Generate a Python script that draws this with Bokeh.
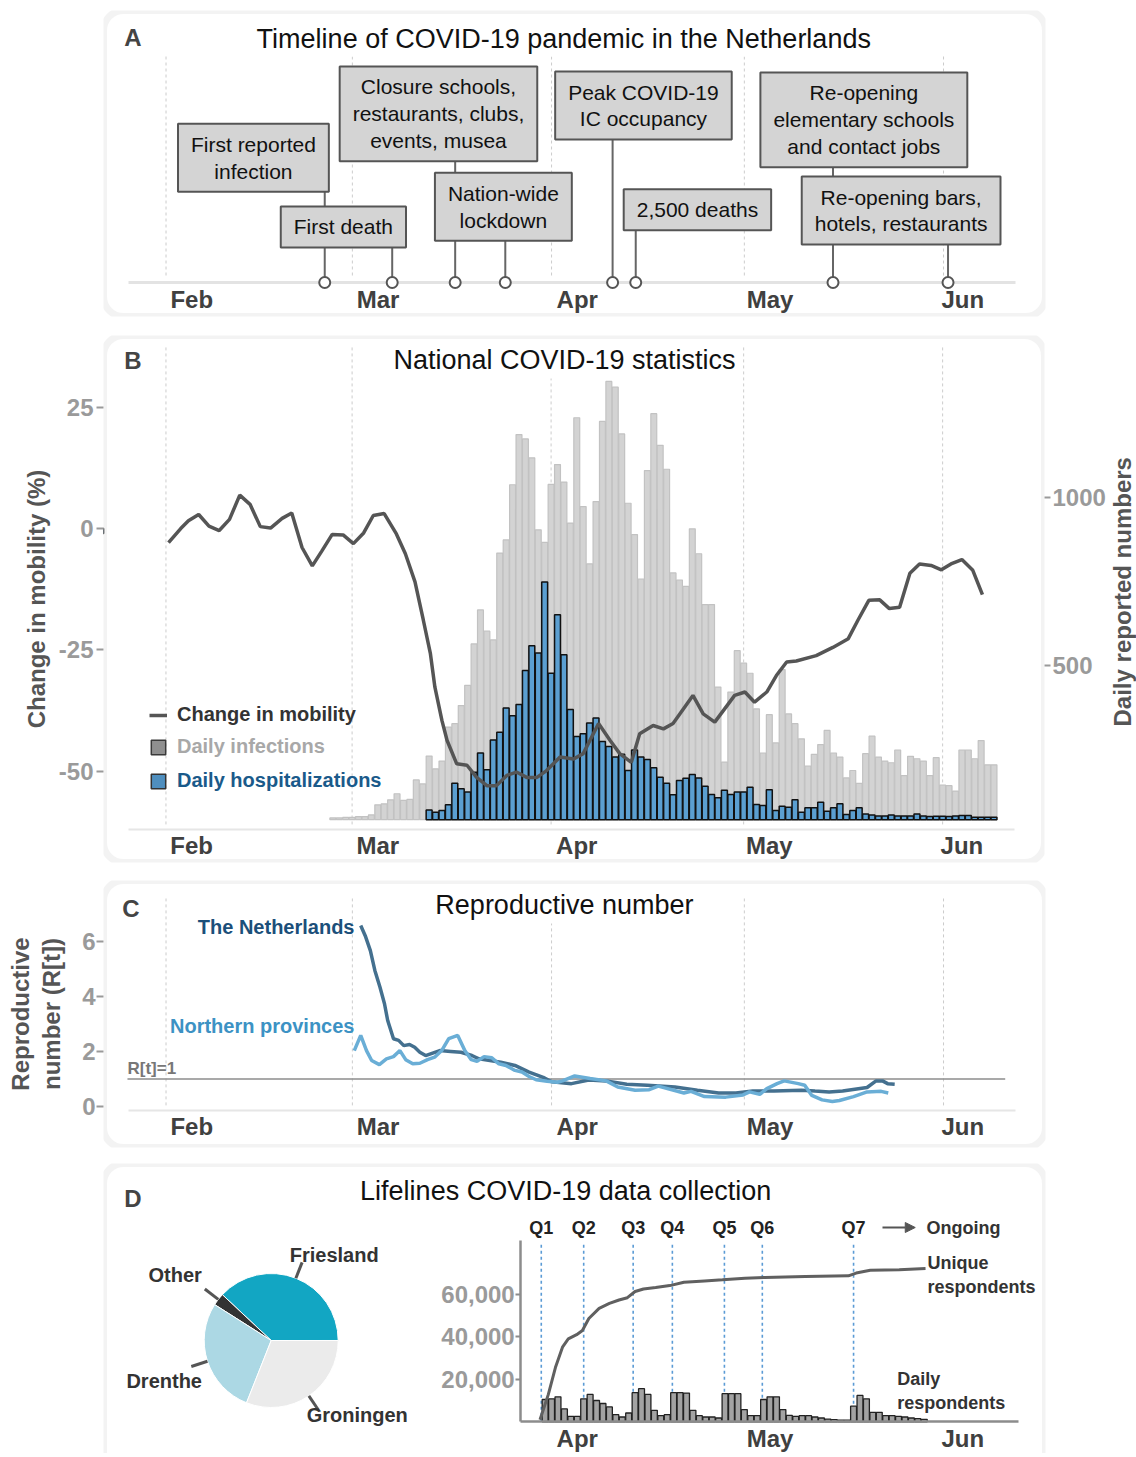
import math
import numpy as np
from bokeh.plotting import figure
from bokeh.models import (Range1d, LinearAxis, FixedTicker, BoxAnnotation, Label, Legend,
                          LegendItem, ColumnDataSource, Arrow, NormalHead, NumeralTickFormatter)
from bokeh.layouts import column, row
from bokeh.embed import file_html
from bokeh.resources import INLINE
from bokeh.core.properties import value
from bokeh.transform import cumsum

FONT = "Liberation Sans"

# ---------------- data (x = day of year 2020, Jan 1 = 0) ----------------
MONTH_STARTS = [31, 60, 91, 121, 152]
MONTH_TICKS = [35, 64, 95, 125, 155]
MONTH_LABELS = ["Feb", "Mar", "Apr", "May", "Jun"]

EVENT_DAY = [55.7, 66.2, 76.0, 83.8, 100.5, 104.1, 134.8, 152.7]
EVENT_TEXT = ["First reported\ninfection", "First death",
              "Closure schools,\nrestaurants, clubs,\nevents, musea", "Nation-wide\nlockdown",
              "Peak COVID-19\nIC occupancy", "2,500 deaths",
              "Re-opening\nelementary schools\nand contact jobs", "Re-opening bars,\nhotels, restaurants"]
LABEL_DAY = [44.6, 58.6, 73.4, 83.5, 105.3, 113.7, 139.6, 145.4]
LABEL_LEVEL = [124.8, 55.6, 168.7, 75.7, 177.0, 72.8, 162.7, 72.0]

MOB_DAY = [31.4, 33.3, 34.5, 36.1, 37.7, 39.3, 40.9, 42.5, 44.1, 45.7, 47.3, 49.1, 50.6, 52.2,
           53.8, 55.3, 56.9, 58.6, 60.2, 61.8, 63.3, 65.0, 66.9, 68.3, 69.8, 71.1, 72.2, 72.9,
           74.0, 74.8, 76.3, 77.9, 79.4, 81.0, 82.5, 84.1, 85.6, 87.2, 88.8, 90.3, 92.4, 94.5,
           96.0, 98.4, 100.2, 101.7, 103.5, 104.8, 106.9, 108.5, 110.0, 113.1, 114.7, 116.5,
           119.6, 121.2, 122.7, 124.6, 126.1, 127.7, 129.2, 132.3, 134.9, 137.3, 138.8, 140.5,
           142.2, 143.7, 145.3, 146.9, 148.4, 150.2, 151.8, 153.3, 155.0, 156.7, 158.2]
MOB_PCT = [-2.9, 0.0, 1.6, 2.9, 0.5, -0.4, 1.9, 6.9, 5.0, 0.4, 0.1, 2.1, 3.2, -3.9,
           -7.7, -4.6, -1.2, -1.3, -3.1, -0.9, 2.7, 3.1, -1.1, -5.2, -11.0, -18.9, -25.8, -32.7,
           -39.6, -43.7, -48.5, -48.8, -51.3, -53.0, -53.0, -50.9, -50.2, -51.3, -51.3, -49.9, -47.1, -47.5,
           -46.4, -40.2, -43.7, -46.4, -48.2, -42.3, -40.6, -41.3, -40.2, -34.4, -38.2, -39.9,
           -34.4, -33.7, -35.8, -33.7, -30.3, -27.5, -27.3, -26.2, -24.5, -22.7, -18.9, -14.8,
           -14.7, -16.5, -16.2, -9.2, -7.3, -7.6, -8.5, -7.3, -6.4, -8.6, -13.6]

INF_COUNT = [47, 47, 49, 49, 51, 51, 56, 86, 89, 101,
             119, 99, 102, 160, 148, 231, 193, 216, 317, 327,
             381, 441, 564, 665, 602, 576, 834, 873, 1037, 1186,
             1173, 1117, 903, 866, 1038, 1097, 1045, 923, 1236, 972,
             802, 987, 1225, 1344, 1327, 1188, 982, 889, 757, 1079,
             1248, 1154, 1083, 775, 754, 735, 906, 832, 681, 681,
             436, 213, 421, 544, 507, 477, 371, 240, 354, 270,
             488, 356, 327, 282, 201, 236, 265, 307, 240, 228,
             166, 188, 150, 238, 290, 228, 216, 211, 249, 173,
             230, 223, 216, 173, 226, 145, 143, 127, 249, 249,
             223, 277, 205, 205]
INF_DAY = list(range(57, 57 + len(INF_COUNT)))

HOSP_COUNT = [71, 64, 69, 86, 150, 134, 124, 183, 240, 190,
              279, 302, 374, 351, 384, 485, 559, 537, 748, 477,
              651, 532, 369, 289, 297, 329, 344, 274, 259, 228,
              236, 188, 249, 228, 221, 196, 168, 150, 116, 158,
              165, 176, 166, 141, 117, 107, 129, 117, 124, 124,
              138, 87, 84, 131, 69, 82, 79, 101, 64, 77,
              77, 94, 67, 77, 89, 57, 69, 77, 59, 56,
              53, 53, 56, 53, 53, 53, 59, 53, 51, 52,
              52, 51, 53, 54, 54, 49, 49, 49, 49]
HOSP_DAY = list(range(72, 72 + len(HOSP_COUNT)))
BAR_BASE = 42

NL_DAY = [61.3, 62.0, 62.8, 63.5, 64.3, 65.0, 65.5, 66.4, 67.2, 68.0, 68.9, 69.7, 70.5, 71.4,
          72.5, 73.6, 75.3, 76.9, 78.6, 79.7, 81.4, 83.1, 85.3, 87.5, 89.7, 91.0, 94.1, 96.8,
          99.5, 102.7, 105.9, 110.2, 113.7, 117.0, 119.7, 122.3, 125.6, 129.9, 132.0, 134.2,
          136.3, 140.1, 141.5, 142.5, 143.3, 144.4]
NL_R = [6.57, 6.2, 5.66, 4.94, 4.33, 3.73, 3.12, 2.46, 2.40, 2.21, 2.25, 2.15, 1.97, 1.85,
        1.94, 2.03, 2.0, 1.97, 1.85, 1.73, 1.67, 1.61, 1.49, 1.25, 1.06, 0.90, 0.83, 0.96,
        0.93, 0.81, 0.77, 0.71, 0.59, 0.49, 0.49, 0.56, 0.56, 0.59, 0.56, 0.53,
        0.56, 0.69, 0.93, 0.93, 0.83, 0.81]
NP_DAY = [60.3, 61.3, 62.2, 63.0, 64.2, 65.3, 66.4, 67.4, 68.3, 69.4, 70.5, 71.7, 72.8, 73.9,
          75.0, 76.4, 77.5, 78.5, 79.4, 80.5, 81.7, 82.8, 83.9, 85.3, 86.4, 87.5, 88.6, 90.3,
          91.9, 92.7, 94.6, 97.0, 99.5, 101.3, 104.0, 106.2, 107.6, 111.6, 112.7, 114.8, 118.1,
          120.8, 121.8, 123.4, 124.5, 126.1, 127.2, 129.4, 130.4, 131.5, 133.1, 134.7, 135.8,
          138.0, 140.1, 142.3, 143.4]
NP_R = [2.03, 2.58, 2.03, 1.67, 1.52, 1.73, 1.81, 2.03, 1.70, 1.55, 1.57, 1.70, 1.79, 2.03,
        2.46, 2.58, 2.03, 1.70, 1.64, 1.81, 1.77, 1.55, 1.49, 1.31, 1.25, 1.09, 0.97, 0.92,
        0.88, 0.93, 1.11, 1.02, 0.93, 0.71, 0.59, 0.61, 0.74, 0.49, 0.55, 0.36, 0.34,
        0.42, 0.53, 0.44, 0.65, 0.83, 0.93, 0.83, 0.77, 0.40, 0.24, 0.18, 0.22,
        0.36, 0.53, 0.55, 0.49]
R_REF = 1.0

PIE_NAMES = ["Friesland", "Other", "Drenthe", "Groningen"]
PIE_SHARE = [38, 3, 28, 31]
PIE_COLORS = ["#12a6c3", "#333333", "#acd8e4", "#ebebeb"]

Q_LABELS = ["Q1", "Q2", "Q3", "Q4", "Q5", "Q6", "Q7"]
Q_DAY = [89.4, 96.0, 103.7, 109.8, 117.9, 123.8, 138.0]
UNIQUE_DAY = [89.2, 90.5, 91.6, 92.7, 93.6, 94.9, 95.8, 96.8, 98.4, 100.0, 101.5, 102.8, 104.0,
              105.3, 107.2, 109.4, 111.6, 114.8, 117.6, 121.1, 124.2, 130.5, 137.2, 138.4,
              140.6, 145.1, 149.2]
UNIQUE_N = [1000, 12900, 25500, 35100, 39000, 41000, 43000, 48600, 53400, 55700, 57300, 58400,
            61300, 62500, 63200, 64100, 65700, 66300, 66800, 67600, 67900, 68400, 68700, 70000,
            71300, 71600, 72100]
DAILY_N = [10500, 10800, 11770, 6070, 2540, 2540,
           10800, 12900, 10020, 8600, 7000, 3340, 2250, 4140,
           13700, 15580, 12900, 5400, 2870, 3340,
           13700, 13700, 13540, 5400, 2870, 2250, 2250, 1790,
           13220, 13220, 13220, 5740, 2870, 2870,
           10500, 11770, 11770, 5740, 3050, 2540, 2870, 2870, 2250, 1790, 1300, 1000, 830, 830,
           7340, 12420, 10800, 4470, 4470, 2870, 2870, 2540, 2250, 1790, 1460, 1160]
DAILY_DAY = list(range(90, 90 + len(DAILY_N)))

# ---------------- helpers ----------------
X_RANGE = (21.27, 167.87)
LINE_BOUNDS = (25.2, 163.2)
PAGE_W = 1136


def base_fig(height, y_range, top, bottom, width=PAGE_W, right=91):
    p = figure(width=width, height=height, x_range=Range1d(*X_RANGE), y_range=y_range,
               x_axis_location=None, y_axis_location=None, title=None,
               toolbar_location=None, output_backend="svg",
               min_border_left=103, min_border_right=right, min_border_top=top,
               min_border_bottom=bottom)
    p.outline_line_color = None
    p.background_fill_color = "white"
    p.border_fill_color = "white"
    for g in p.grid:
        g.visible = False
    return p


def add_box(p, **kw):
    p.add_layout(BoxAnnotation(fill_color=None, line_color="#d6d6d6", line_width=7,
                               border_radius=20, **kw))


def letter(p, x, y, txt):
    p.add_layout(Label(x=x, y=y, text=txt, text_font=FONT, text_font_size="24px",
                       text_font_style="bold", text_color="#444444",
                       text_align="left", text_baseline="middle"))


def title(p, x, y, txt):
    p.add_layout(Label(x=x, y=y, text=txt, text_font=FONT, text_font_size="27px",
                       text_color="#111111", text_align="center", text_baseline="middle",
                       background_fill_color="white", padding=3))


def month_axis(fixed, line_color, line_width, ticks=MONTH_TICKS, labels=MONTH_LABELS,
               bounds=LINE_BOUNDS):
    ax = LinearAxis(fixed_location=fixed, ticker=FixedTicker(ticks=ticks),
                    major_label_overrides={t: l for t, l in zip(ticks, labels)}, bounds=bounds)
    ax.axis_line_color = line_color
    ax.axis_line_width = line_width
    ax.major_tick_line_color = None
    ax.minor_tick_line_color = None
    ax.major_label_text_font = FONT
    ax.major_label_text_font_size = "24px"
    ax.major_label_text_font_style = "bold"
    ax.major_label_text_color = "#404040"
    ax.major_label_standoff = -3
    return ax


def style_value_axis(ax, size="24px", tick_out=7, standoff=3):
    ax.axis_line_color = None
    ax.major_tick_line_color = "#9a9a9a"
    ax.major_tick_line_width = 2
    ax.major_tick_out = tick_out
    ax.major_tick_in = 0
    ax.minor_tick_line_color = None
    ax.major_label_text_font = FONT
    ax.major_label_text_font_size = size
    ax.major_label_text_font_style = "bold"
    ax.major_label_text_color = "#9a9a9a"
    ax.major_label_standoff = standoff
    ax.axis_label_text_font = FONT
    ax.axis_label_text_font_style = "bold"
    ax.axis_label_text_color = "#555555"


GRID = dict(line_color="#cccccc", line_width=1, line_dash="3 3")
NOTE = dict(text_font=FONT, text_font_size="18px", text_font_style="bold", text_color="#333333")

# ---------------- Panel A: timeline ----------------
pA = base_fig(325, Range1d(-34, 272), 10, 9)
add_box(pA)
pA.segment(x0=MONTH_STARTS, x1=MONTH_STARTS, y0=7, y1=227, **GRID)
pA.add_layout(month_axis(0, "#e3e3e3", 3), "below")
pA.segment(x0=EVENT_DAY, x1=EVENT_DAY, y0=0, y1=LABEL_LEVEL, line_color="#666666", line_width=2)
pA.scatter(x=EVENT_DAY, y=[0] * len(EVENT_DAY), size=11, fill_color="white",
           line_color="#555555", line_width=2, level="overlay")
for xd, yl, txt in zip(LABEL_DAY, LABEL_LEVEL, EVENT_TEXT):
    pA.add_layout(Label(x=xd, y=yl, text=txt, text_font=FONT, text_font_size="21px",
                        text_color="#111111", text_align="center", text_baseline="middle",
                        text_line_height=1.17, background_fill_color="#d4d4d4",
                        border_line_color="#555555", border_line_width=2, padding=(13, 9)))
letter(pA, 24.5, 245, "A")
title(pA, 92.9, 244, "Timeline of COVID-19 pandemic in the Netherlands")

# ---------------- Panel B: national statistics ----------------
B_W = 1108
pB = base_fig(547, Range1d(-68.85, 39.81), 10, 10, width=B_W, right=B_W - 1045)
pB.extra_y_ranges = {"counts": Range1d(-85.3, 1480.4)}
add_box(pB)
pB.segment(x0=MONTH_STARTS, x1=MONTH_STARTS, y0=-61.0, y1=37.75, **GRID)
pB.vbar(x=INF_DAY, top=INF_COUNT, bottom=BAR_BASE, width=0.92, fill_color="#d3d3d3",
        line_color="#c2c2c2", line_width=1.2, y_range_name="counts")
pB.vbar(x=HOSP_DAY, top=HOSP_COUNT, bottom=BAR_BASE, width=0.92, fill_color="#5b9fd1",
        line_color="#111111", line_width=1.5, y_range_name="counts")
mob = pB.line(MOB_DAY, MOB_PCT, line_color="#555555", line_width=3.5)
# legend-only renderers (placed far outside the visible range)
dummy_inf = pB.vbar(x=[-1000], top=[0], bottom=[-1], width=1, fill_color="#8f8f8f",
                    line_color="#3a3a3a", line_width=1.5)
dummy_hosp = pB.vbar(x=[-1000], top=[0], bottom=[-1], width=1, fill_color="#4f8fbf",
                     line_color="#333333", line_width=1.5)

MOB_TICKS = [-50, -25, 0, 25]
axL = LinearAxis(ticker=FixedTicker(ticks=MOB_TICKS), axis_label="Change in mobility (%)",
                 major_label_overrides={t: str(t) for t in MOB_TICKS})
style_value_axis(axL)
axL.axis_label_text_font_size = "24px"
axL.axis_label_standoff = 6
pB.add_layout(axL, "left")

axR = LinearAxis(y_range_name="counts", ticker=FixedTicker(ticks=[500, 1000]))
style_value_axis(axR, size="24px", tick_out=6, standoff=2)
pB.add_layout(axR, "right")
pB.add_layout(month_axis(-62.04, "#e6e6e6", 2), "below")

for lab, rend, col, loc in [("Change in mobility", mob, "#333333", (46, 136)),
                            ("Daily infections", dummy_inf, "#a8a8a8", (46, 104)),
                            ("Daily hospitalizations", dummy_hosp, "#1a5a8a", (46, 70))]:
    pB.add_layout(Legend(items=[LegendItem(label=lab, renderers=[rend])], location=loc,
                         label_text_font=FONT, label_text_font_size="20px",
                         label_text_font_style="bold", label_text_color=col,
                         glyph_width=18, glyph_height=18, label_standoff=10,
                         padding=0, margin=0, spacing=0, border_line_color=None,
                         background_fill_alpha=0))
letter(pB, 24.5, 34.66, "B")
title(pB, 93.1, 34.66, "National COVID-19 statistics")

# right-hand axis title of panel B (own narrow strip so it reads bottom-to-top)
T_W = PAGE_W - B_W
pT = figure(width=T_W, height=547, x_range=Range1d(0, T_W), y_range=Range1d(0, 547),
            x_axis_location=None, y_axis_location=None, title=None, toolbar_location=None,
            output_backend="svg", min_border=0)
pT.outline_line_color = None
for g in pT.grid:
    g.visible = False
pT.add_layout(Label(x=14, y=281, text="Daily reported numbers", angle=math.pi / 2,
                    text_font=FONT, text_font_size="24px", text_font_style="bold",
                    text_color="#555555", text_align="center", text_baseline="middle"))

# ---------------- Panel C: reproductive number ----------------
pC = base_fig(283, Range1d(-1.488, 8.203), 8, 8)
add_box(pC)
pC.segment(x0=MONTH_STARTS, x1=MONTH_STARTS, y0=0.04, y1=7.55, **GRID)
pC.segment(x0=[25.0], x1=[161.6], y0=[R_REF], y1=[R_REF], line_color="#8c8c8c", line_width=1.5)
pC.line(NL_DAY, NL_R, line_color="#44708f", line_width=3.5)
pC.line(NP_DAY, NP_R, line_color="#6aaed6", line_width=3.5)
axC = LinearAxis(ticker=FixedTicker(ticks=[0, 2, 4, 6]), axis_label="Reproductive\nnumber (R[t])")
style_value_axis(axC, standoff=1)
axC.axis_label_text_font_size = "24px"
axC.axis_label_text_line_height = 1.15
axC.axis_label_standoff = 14
pC.add_layout(axC, "left")
pC.add_layout(month_axis(-0.145, "#e6e6e6", 2), "below")
pC.add_layout(Label(x=60.33, y=6.53, text="The Netherlands", text_font=FONT, text_font_size="20px",
                    text_font_style="bold", text_color="#1b4f7a", text_align="right",
                    text_baseline="middle"))
pC.add_layout(Label(x=60.33, y=2.94, text="Northern provinces", text_font=FONT,
                    text_font_size="20px", text_font_style="bold", text_color="#3c92c4",
                    text_align="right", text_baseline="middle"))
pC.add_layout(Label(x=25.0, y=R_REF + 0.03, text="R[t]=1", text_font=FONT, text_font_size="17px",
                    text_font_style="bold", text_color="#777777", text_align="left",
                    text_baseline="bottom"))
letter(pC, 24.2, 7.19, "C")
title(pC, 93.0, 7.30, "Reproductive number")

# ---------------- Panel D: Lifelines ----------------
pD = base_fig(298, Range1d(-14918, 121553), 8, 0)
pD.extra_x_ranges = {"pie_x": Range1d(-167.7, 774.3)}
pD.extra_y_ranges = {"pie_y": Range1d(-113, 177)}
add_box(pD, bottom=-40000)

tot = float(sum(PIE_SHARE))
ang = [s / tot * 2 * math.pi for s in PIE_SHARE]
starts = np.cumsum([0.0] + ang[:-1])
mids = starts + np.array(ang) / 2
pie_src = ColumnDataSource(dict(name=PIE_NAMES, angle=ang, color=PIE_COLORS))
pD.wedge(x=0, y=0, radius=67, start_angle=cumsum("angle", include_zero=True),
         end_angle=cumsum("angle"), fill_color="color", line_color="white", line_width=1,
         source=pie_src, x_range_name="pie_x", y_range_name="pie_y")
pD.segment(x0=67 * np.cos(mids), y0=67 * np.sin(mids), x1=84 * np.cos(mids), y1=84 * np.sin(mids),
           line_color="#555555", line_width=3, x_range_name="pie_x", y_range_name="pie_y")
PIE_LABEL_POS = [(63, 86), (-96, 66), (-107, -40), (86, -74)]
pD.text(x=[p[0] for p in PIE_LABEL_POS], y=[p[1] for p in PIE_LABEL_POS], text=PIE_NAMES,
        text_font=value(FONT), text_font_size="20px", text_font_style="bold",
        text_color="#333333", text_align="center", text_baseline="middle",
        x_range_name="pie_x", y_range_name="pie_y")

pD.segment(x0=Q_DAY, x1=Q_DAY, y0=0, y1=84000, line_color="#5b9bd5", line_dash="3 3",
           line_width=1.6)
pD.vbar(x=DAILY_DAY, top=DAILY_N, bottom=0, width=0.92, fill_color="#a3a3a3",
        line_color="#222222", line_width=1.3)
pD.line(UNIQUE_DAY, UNIQUE_N, line_color="#606060", line_width=3)
pD.text(x=Q_DAY, y=91435, text=Q_LABELS, text_font=value(FONT), text_font_size="18px",
        text_font_style="bold", text_color="#222222", text_align="center", text_baseline="middle")
pD.add_layout(Arrow(x_start=142.5, y_start=91435, x_end=147.6, y_end=91435,
                    line_color="#555555", line_width=2,
                    end=NormalHead(size=10, fill_color="#555555", line_color="#555555")))
pD.add_layout(Label(x=149.35, y=91435, text="Ongoing", text_align="left",
                    text_baseline="middle", **NOTE))
pD.add_layout(Label(x=149.5, y=69082, text="Unique\nrespondents", text_align="left",
                    text_baseline="middle", text_line_height=1.2, **NOTE))
pD.add_layout(Label(x=144.8, y=14494, text="Daily\nrespondents", text_align="left",
                    text_baseline="middle", text_line_height=1.2, **NOTE))

axDy = LinearAxis(fixed_location=86.2, ticker=FixedTicker(ticks=[20000, 40000, 60000]),
                  formatter=NumeralTickFormatter(format="0,0"), bounds=(0, 85300))
style_value_axis(axDy, size="24px", tick_out=5, standoff=1)
axDy.axis_line_color = "#8c8c8c"
axDy.axis_line_width = 2.5
axDy.major_tick_line_color = "#8c8c8c"
pD.add_layout(axDy, "left")
pD.add_layout(month_axis(0, "#8c8c8c", 2.5, ticks=MONTH_TICKS[2:], labels=MONTH_LABELS[2:],
                         bounds=(86.2, 163.7)), "below")
letter(pD, 24.5, 105082, "D")
title(pD, 93.2, 108847, "Lifelines COVID-19 data collection")

layout = column(pA, row(pB, pT, spacing=0), pC, pD, spacing=0)
open("out.html", "w").write(file_html(layout, INLINE, title="COVID-19 Netherlands"))
